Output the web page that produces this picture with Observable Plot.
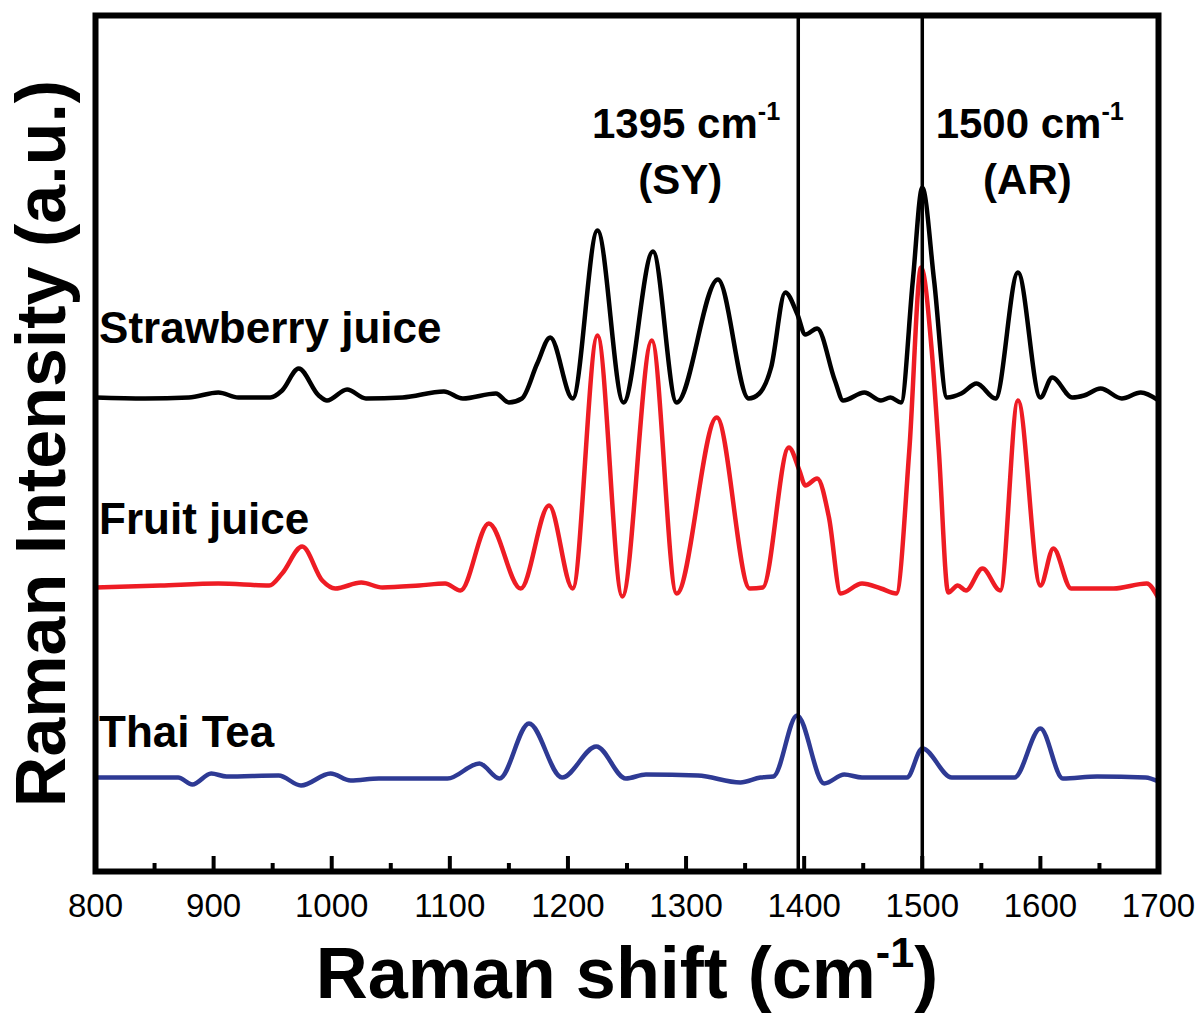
<!DOCTYPE html>
<html>
<head>
<meta charset="utf-8">
<script src="https://cdn.jsdelivr.net/npm/d3@7"></script>
<script src="https://cdn.jsdelivr.net/npm/@observablehq/plot@0.6"></script>
<style>
  html, body { margin: 0; padding: 0; background: #fff; }
  #chart svg { display: block; }
</style>
</head>
<body>
<div id="chart"></div>
<script>
// ---- Data ----
const series = ["Strawberry juice", "Fruit juice", "Thai Tea"];
const colors = ["#000000", "#ee1c24", "#2e3a94"];
// vertical stacking offsets of each spectrum (a.u.)
const offsets = [474, 284, 94];

const shiftStrawberry = [800,842,879,904,921,948,958,972,989,996,1013,1029,1060,1095,1111,1139,1150,1161,1174,1185,1204,1225,1247,1272,1292,1327,1353,1362,1372,1384,1394,1401,1411,1426,1433,1451,1465,1473,1482,1492,1500,1510,1521,1533,1546,1562,1581,1600,1610,1627,1637,1651,1669,1685,1700];
const intensityStrawberry = [0,-1,0,5,0,0,7,29,2,-3,8,-1,0,6,-1,4,-5,-1,34,60,-1,167,-5,146,-5,118,-1,4,30,105,84,63,69,17,-3,5,-3,0,-5,117,210,117,0,4,14,-1,125,0,20,0,2,9,-1,5,-3];

const shiftFruit = [800,855,904,947,958,975,992,1003,1025,1043,1074,1096,1109,1133,1160,1184,1204,1225,1246,1271,1292,1326,1354,1365,1387,1396,1401,1411,1421,1431,1449,1465,1478,1489,1499,1508,1514,1522,1530,1537,1551,1566,1581,1600,1611,1626,1662,1690,1700];
const intensityFruit = [0,2,4,2,14,41,7,-1,5,0,2,4,-3,64,-1,82,-1,252,-9,247,-6,170,-1,0,140,117,102,109,70,-6,4,-1,-6,137,320,237,137,-5,2,-3,19,-3,187,2,39,-1,-1,4,-11];

const shiftThai = [800,870,882,898,911,955,974,999,1016,1040,1098,1125,1142,1167,1195,1224,1249,1266,1310,1346,1363,1374,1394,1417,1434,1449,1487,1500,1525,1578,1600,1619,1648,1689,1700];
const intensityThai = [0,0,-7,4,1,2,-8,4,-3,-1,-1,14,-1,54,0,31,-1,3,2,-5,0,1,62,-6,3,0,0,29,0,0,49,-1,1,0,-4];

const markerShifts = [1395, 1500];
const markerLabels = ["1395 cm-1", "1500 cm-1"];
const markerTags = ["(SY)", "(AR)"];
const majorTicks = d3.range(800, 1701, 100);
const minorTicks = d3.range(850, 1700, 100);

// ---- Build table ----
const shifts = [shiftStrawberry, shiftFruit, shiftThai];
const intensities = [intensityStrawberry, intensityFruit, intensityThai];
const rows = [];
series.forEach((s, i) => {
  shifts[i].forEach((x, j) => rows.push({series: s, shift: x, intensity: intensities[i][j] + offsets[i]}));
});

const FONT = "'Liberation Sans', Arial, Helvetica, sans-serif";

const chart = Plot.plot({
  width: 1200,
  height: 1017,
  marginLeft: 95,
  marginRight: 42,
  marginTop: 15,
  marginBottom: 146,
  style: {fontFamily: FONT, fontSize: "33px", background: "#fff", color: "#000"},
  x: {domain: [800, 1700]},
  y: {domain: [0, 856], axis: null},
  color: {domain: series, range: colors},
  marks: [
    Plot.line(rows, {x: "shift", y: "intensity", z: "series", stroke: "series", strokeWidth: 4.5, curve: "monotone-x", strokeLinejoin: "round"}),
    Plot.ruleX(markerShifts, {stroke: "#000", strokeWidth: 3.5}),
    Plot.ruleX(majorTicks.slice(1, -1), {y1: 0, y2: 15, stroke: "#000", strokeWidth: 4}),
    Plot.ruleX(minorTicks, {y1: 0, y2: 8, stroke: "#000", strokeWidth: 4}),
    Plot.frame({stroke: "#000", strokeWidth: 6}),
    Plot.axisX(majorTicks, {tickSize: 0, tickPadding: 22, label: null, tickFormat: d3.format("d"), fontSize: 33}),
    // series labels
    Plot.text(series, {x: 803, y: (d, i) => [529, 338, 125][i], text: d => d, textAnchor: "start", lineAnchor: "bottom", fontSize: 44, fontWeight: "bold", fill: "#000"}),
    // marker annotations
    Plot.text(markerLabels, {x: (d, i) => [1300, 1591][i], y: 734, text: d => d, textAnchor: "middle", lineAnchor: "bottom", fontSize: 42, fontWeight: "bold", fill: "#000"}),
    Plot.text(markerTags, {x: (d, i) => [1295, 1589][i], y: 678, text: d => d, textAnchor: "middle", lineAnchor: "bottom", fontSize: 42, fontWeight: "bold", fill: "#000"}),
    // axis titles
    Plot.text(["Raman shift (cm-1)"], {frameAnchor: "bottom", dy: 126, text: d => d, textAnchor: "middle", lineAnchor: "bottom", fontSize: 72, fontWeight: "bold", fill: "#000"}),
    Plot.text(["Raman Intensity (a.u.)"], {frameAnchor: "left", dx: -31, rotate: -90, text: d => d, textAnchor: "middle", lineAnchor: "bottom", fontSize: 70, fontWeight: "bold", fill: "#000"})
  ]
});

document.getElementById("chart").appendChild(chart);

// superscript "-1" in cm-1
d3.select(chart).selectAll("text").each(function () {
  const t = this.textContent;
  const idx = t.indexOf("cm-1");
  if (idx < 0 || this.querySelector("tspan")) return;
  const fs = parseFloat(getComputedStyle(this).fontSize) || 40;
  const before = t.slice(0, idx + 2), after = t.slice(idx + 4);
  this.textContent = "";
  const sel = d3.select(this);
  sel.append("tspan").text(before);
  sel.append("tspan").attr("dy", -0.42 * fs).attr("font-size", 0.6 * fs).text("-1");
  if (after) sel.append("tspan").attr("dy", 0.42 * fs).text(after);
});
</script>
</body>
</html>
